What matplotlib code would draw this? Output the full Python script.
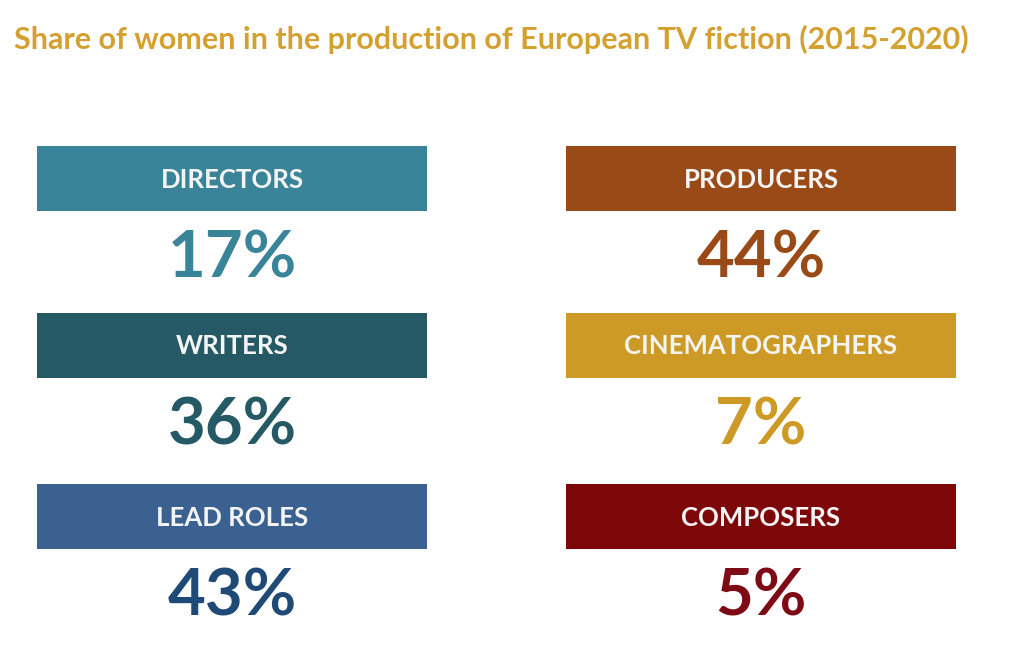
import matplotlib.pyplot as plt
from matplotlib.patches import Rectangle

# data
title = "Share of women in the production of European TV fiction (2015-2020)"
roles = ["DIRECTORS", "PRODUCERS", "WRITERS", "CINEMATOGRAPHERS", "LEAD ROLES", "COMPOSERS"]
shares = [17, 44, 36, 7, 43, 5]
box_colors = ["#3a8499", "#9a4a17", "#245965", "#cc9a25", "#3a6190", "#7d0609"]
value_colors = ["#3a8499", "#9a4a17", "#245965", "#cc9a25", "#1f4a76", "#7d0a14"]

plt.rcParams['font.family'] = ['Lato', 'DejaVu Sans']

fig = plt.figure(figsize=(10.3, 6.64), dpi=100)
ax = fig.add_axes([0, 0, 1, 1])
ax.set_xlim(0, 1030)
ax.set_ylim(664, 0)
ax.axis('off')

ax.text(14, 39, title, color="#d4a030", fontsize=22, fontweight='bold', va='center', ha='left')

# layout in pixels: two columns, three rows
col_x = [232, 761]
row_top = [146, 313, 484]
box_w, box_h = 390, 65
value_gap = 48

for i, (role, share) in enumerate(zip(roles, shares)):
    cx = col_x[i % 2]
    top = row_top[i // 2]
    ax.add_patch(Rectangle((cx - box_w / 2, top), box_w, box_h,
                           facecolor=box_colors[i], edgecolor='none'))
    ax.text(cx, top + box_h / 2 + 1, role, color='#f4f4f4', fontsize=18.5,
            fontweight='bold', ha='center', va='center')
    ax.text(cx, top + box_h + value_gap, f"{share}%", color=value_colors[i],
            fontsize=47, fontweight='bold', ha='center', va='center')

fig.savefig('out.png', dpi=100)
